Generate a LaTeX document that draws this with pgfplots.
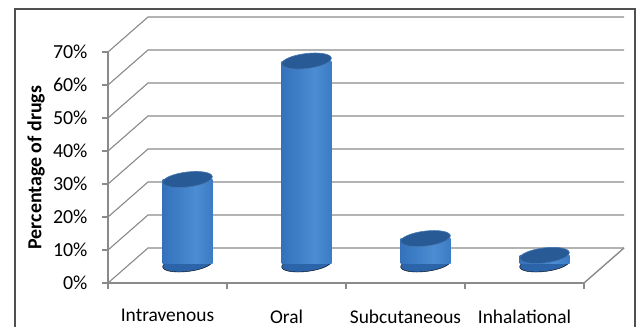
\documentclass[border=0pt]{standalone}
\usepackage{pgfplots}
\usepackage{pgfplotstable}
\pgfplotsset{compat=1.18}
\usepackage{fontspec}
\setmainfont{Carlito}
\definecolor{gridgray}{RGB}{138,138,138}
\definecolor{framegray}{RGB}{80,80,80}
\definecolor{cylA}{RGB}{38,92,162}
\definecolor{cylB}{RGB}{55,118,192}
\definecolor{cylC}{RGB}{76,140,210}
\definecolor{cylD}{RGB}{26,66,120}
\definecolor{capfill}{RGB}{40,90,150}
\definecolor{capdraw}{RGB}{70,120,180}
\definecolor{basefill}{RGB}{44,100,170}
\pgfdeclarehorizontalshading{cyl}{100bp}{color(0bp)=(cylA); color(30bp)=(cylB); color(58bp)=(cylC); color(80bp)=(cylB); color(100bp)=(cylD)}
\pgfplotstableread{
x y
0.5 25.6
1.5 61.5
2.5 7.7
3.5 2.6
}\datatable
\begin{document}
\begin{tikzpicture}
\path[use as bounding box] (0,0) rectangle (637bp,327bp);
\draw[framegray, line width=1.4bp] (15bp,-5bp) -- (15bp,318bp) -- (635bp,318bp) -- (635bp,-5bp);
\begin{axis}[
  at={(108bp,44bp)}, anchor=origin,
  x={(119bp,0bp)}, y={(40bp,35bp)}, z={(0bp,3.3bp)},
  xmin=0, xmax=4, ymin=0, ymax=1, zmin=0, zmax=70,
  axis lines*=left,
  axis line style={gridgray, line width=1.1bp},
  clip=false,
  xtick={0.5,1.5,2.5,3.5},
  xticklabels={Intravenous,Oral,Subcutaneous,Inhalational},
  ytick=\empty,
  ztick={0,10,...,70},
  zticklabels={0\%,10\%,20\%,30\%,40\%,50\%,60\%,70\%},
  major tick length=0pt,
  x tick label style={font=\fontsize{19.5}{23}\selectfont, anchor=north, yshift=-23bp},
  z tick label style={font=\fontsize{20}{23}\selectfont, anchor=east, xshift=-17bp},
]
\pgfplotsinvokeforeach{0,10,...,70}{
  \addplot3[gridgray, line width=1.1bp] coordinates {(0,0,#1) (0,1,#1) (4,1,#1)};
  \addplot3[gridgray, line width=1.1bp] coordinates {(0,0,#1) (-0.05,0,#1)};
}
\pgfplotsinvokeforeach{0,...,4}{
  \addplot3[gridgray, line width=1.1bp] coordinates {(#1,0,0) (#1,0,-1.8)};
}
\addplot3[gridgray, line width=1.1bp] coordinates {(4,0,0) (4,1,0)};
\node[font=\bfseries\fontsize{20}{24}\selectfont, xshift=-72bp, rotate=90] at (axis cs:0,0,35) {Percentage of drugs};
\end{axis}
% cylinder bases
\begin{axis}[
  at={(128bp,63bp)}, anchor=origin,
  x={(119bp,0bp)}, y={(0bp,3.3bp)},
  xmin=0, xmax=4, ymin=0, ymax=70,
  hide axis, clip=false,
]
\addplot[only marks, mark=*, mark size=25bp, mark options={fill=basefill, draw=none, rotate=7, yscale=0.3}] table[x=x, y expr=0] {\datatable};
\end{axis}
% cylinder bodies and caps
\begin{axis}[
  at={(128bp,63bp)}, anchor=origin,
  x={(119bp,0bp)}, y={(0bp,3.3bp)},
  xmin=0, xmax=4, ymin=0, ymax=70,
  hide axis, clip=false,
]
\addplot[ybar, bar width=50bp, draw=none, shade, shading=cyl, restrict x to domain=0:1] table[x=x, y=y] {\datatable};
\addplot[ybar, bar width=50bp, draw=none, shade, shading=cyl, restrict x to domain=1:2] table[x=x, y=y] {\datatable};
\addplot[ybar, bar width=50bp, draw=none, shade, shading=cyl, restrict x to domain=2:3] table[x=x, y=y] {\datatable};
\addplot[ybar, bar width=50bp, draw=none, shade, shading=cyl, restrict x to domain=3:4] table[x=x, y=y] {\datatable};
\addplot[only marks, mark=*, mark size=25bp, mark options={fill=capfill, draw=capdraw, line width=0.6bp, rotate=7, yscale=0.3}] table[x=x, y=y] {\datatable};
\end{axis}
\end{tikzpicture}
\end{document}
